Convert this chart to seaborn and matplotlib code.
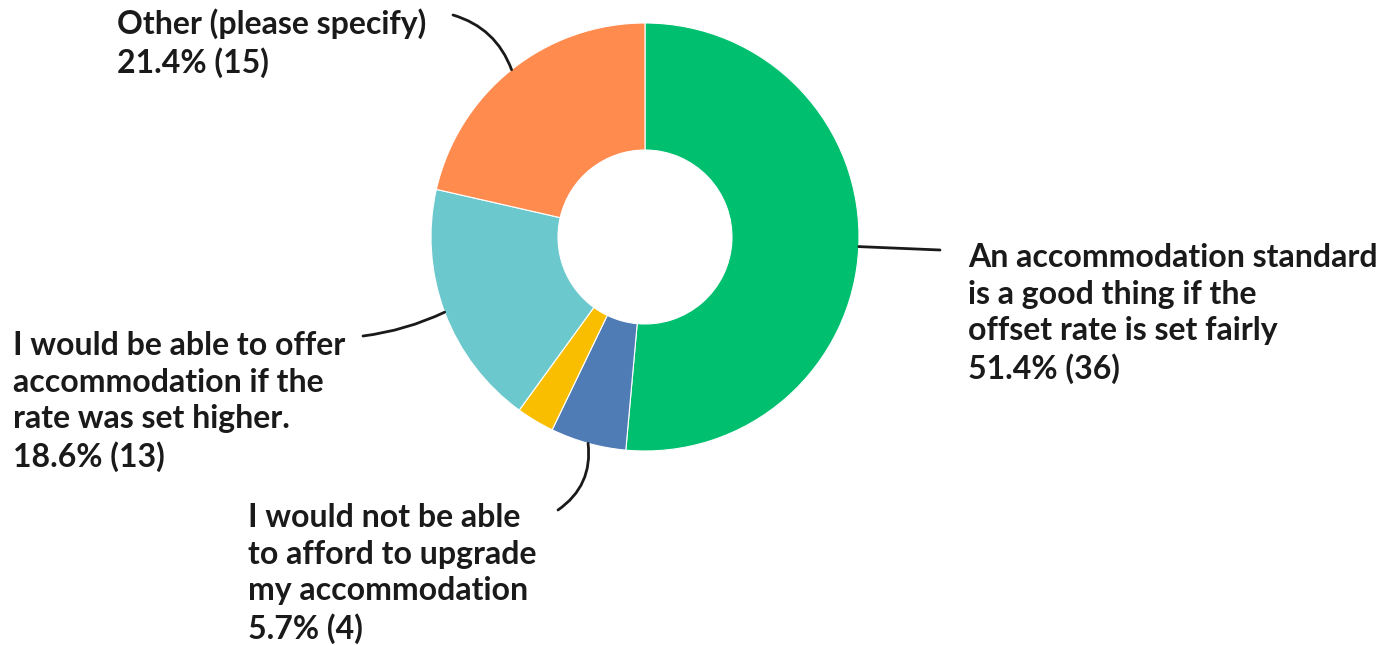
import numpy as np
import matplotlib
matplotlib.use("Agg")
import matplotlib.pyplot as plt
import seaborn as sns

# ---- data ----
categories = [
    "An accommodation standard\nis a good thing if the\noffset rate is set fairly",
    "I would not be able\nto afford to upgrade\nmy accommodation",
    "",
    "I would be able to offer\naccommodation if the\nrate was set higher.",
    "Other (please specify)",
]
counts = [36, 4, 2, 13, 15]
percents = [51.4, 5.7, 2.9, 18.6, 21.4]
show_label = [True, True, False, True, True]
colors = ["#00BF6F", "#507CB6", "#F9BE00", "#6BC8CD", "#FF8B4F"]

sns.set_theme(style="white")
plt.rcParams["font.family"] = ["Lato", "DejaVu Sans"]

W, H = 1383, 645
fig = plt.figure(figsize=(W / 100, H / 100), dpi=100)
ax = fig.add_axes([0, 0, 1, 1])
ax.set_xlim(0, W)
ax.set_ylim(0, H)
ax.set_aspect("equal")
ax.axis("off")

cx, cy = 645, H - 237
R = 214
wedges, _ = ax.pie(counts, colors=colors, startangle=90, counterclock=False,
                   center=(cx, cy), radius=R,
                   wedgeprops=dict(width=R - 87, edgecolor="white", linewidth=0.8))
ax.set_xlim(0, W)
ax.set_ylim(0, H)

# label placement: (line end x, line end y (px from top), text x, text top y, rad)
layout = [
    (940, 250, 968, 243, 0.0),
    (558, 510, 248, 503, 0.3),
    None,
    (363, 336, 13, 331, 0.08),
    (453, 15, 117, 8, -0.25),
]

for w, lay, cat, p, n, show in zip(wedges, layout, categories, percents, counts, show_label):
    if not show:
        continue
    mid = np.deg2rad((w.theta1 + w.theta2) / 2)
    ex, ey = cx + R * np.cos(mid), cy + R * np.sin(mid)
    lx, ly, tx, ty, rad = lay
    ax.annotate("", xy=(ex, ey), xytext=(lx, H - ly),
                arrowprops=dict(arrowstyle="-", color="#1a1a1a", lw=2,
                                connectionstyle=f"arc3,rad={rad}",
                                shrinkA=0, shrinkB=0))
    ax.text(tx, H - ty, f"{cat}\n{p}% ({n})", ha="left", va="top",
            fontsize=23, fontweight="bold", color="#1a1a1a", linespacing=1.32)

fig.savefig("out.png", dpi=100)
